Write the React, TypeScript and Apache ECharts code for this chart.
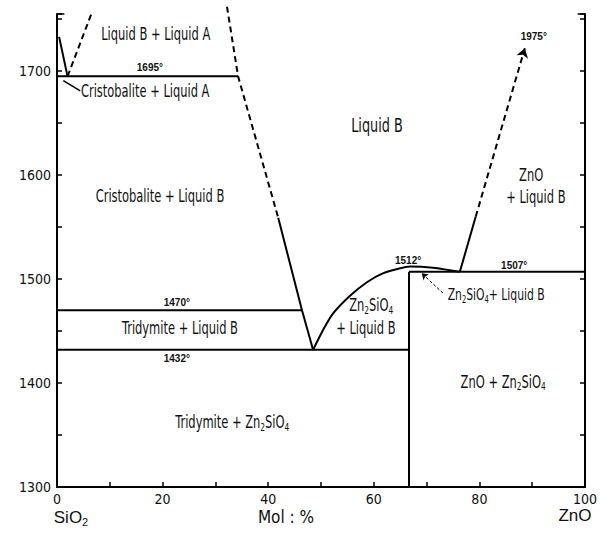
import React, { useEffect, useRef } from "react";
import * as echarts from "echarts";

const FONT = "'DejaVu Sans Condensed', 'DejaVu Sans', sans-serif";
const INK = "#111";

// Phase boundaries, [mol % ZnO, °C]
const iso1695: number[][] = [[0, 1695], [34.3, 1695]];
const iso1470: number[][] = [[0, 1470], [46.4, 1470]];
const iso1432: number[][] = [[0, 1432], [66.67, 1432]];
const iso1507: number[][] = [[66.67, 1507], [100, 1507]];
const zn2sio4Line: number[][] = [[66.67, 1300], [66.67, 1507]];
const cristobaliteA: number[][] = [[0.4, 1733], [2.0, 1695]];
const liquidADashed: number[][] = [[2.0, 1695], [6.5, 1755]];
const silicaLiquidusDashed: number[][] = [[32.2, 1762], [34.3, 1695], [41.9, 1559]];
const silicaLiquidus: number[][] = [[41.9, 1559], [46.4, 1470], [48.5, 1432]];
const willemiteLiquidus: number[][] = [
  [48.5, 1432], [50.5, 1452], [52.3, 1467], [55.5, 1484], [58.7, 1497],
  [61.7, 1505.5], [65.0, 1510.5], [66.9, 1512], [71.2, 1511], [74.4, 1508.5], [76.3, 1507],
];
const zincoxideLiquidus: number[][] = [[76.3, 1507], [79.3, 1560]];
const zincoxideDashed: number[][] = [[79.3, 1560], [88.6, 1722]];

// Short caps closing the frame at the top of both temperature axes
const frameCapLeft: number[][] = [[0, 1755], [1.4, 1755]];
const frameCapRight: number[][] = [[98.6, 1755], [100, 1755]];

// Leader lines from labels to small fields
const leaderCristobalite: number[][] = [[1.2, 1691], [4.4, 1681]];
const leaderWillemite: number[][] = [[73.1, 1486.5], [69.1, 1505.5]];

// Field and temperature labels
const labelText: string[] = [
  "Liquid B + Liquid A",
  "Cristobalite + Liquid A",
  "Liquid B",
  "Cristobalite + Liquid B",
  "ZnO",
  "+ Liquid B",
  "Tridymite + Liquid B",
  "{t|Zn}{s|2}{t|SiO}{s|4}",
  "+ Liquid B",
  "{t|Zn}{s|2}{t|SiO}{s|4}{t|+ Liquid B}",
  "{t|ZnO + Zn}{s|2}{t|SiO}{s|4}",
  "{t|Tridymite + Zn}{s|2}{t|SiO}{s|4}",
  "1695°",
  "1470°",
  "1432°",
  "1512°",
  "1507°",
  "1975°",
];
const labelX: number[] = [18.7, 16.7, 60.6, 19.5, 89.8, 90.7, 23.3, 59.5, 58.5, 74.0, 84.5, 33.2, 17.6, 22.7, 22.7, 66.5, 86.6, 90.3];
const labelY: number[] = [1735, 1681, 1648, 1580, 1600, 1579, 1453, 1475, 1453, 1485, 1401, 1362, 1704, 1477, 1424, 1518, 1513, 1733];
const labelSize: number[] = [17, 17, 19, 17, 17, 17, 17, 17, 17, 16, 17, 17, 10, 10, 10, 10, 10, 10];
const labelAlign: string[] = ["center", "center", "center", "center", "center", "center", "center", "center", "center", "left", "center", "center", "center", "center", "center", "center", "center", "center"];

const xTicks = { min: 0, max: 100, step: 10 };
const yTicks = { min: 1300, max: 1755, step: 50 };

function boundary(data: number[][], dashed = false, extra: any = {}) {
  return {
    type: "line",
    data,
    showSymbol: false,
    symbol: "none",
    clip: false,
    silent: true,
    lineStyle: { color: "#000", width: 2, type: dashed ? [6, 4] : "solid" },
    ...extra,
  };
}

export default function App() {
  const ref = useRef<HTMLDivElement>(null);

  useEffect(() => {
    if (!ref.current) return;
    const chart = echarts.init(ref.current, null, { renderer: "svg" });

    const axisCommon = {
      type: "value",
      splitLine: { show: false },
      axisLine: { show: true, lineStyle: { color: "#000", width: 2 } },
      axisTick: { show: true, inside: true, length: 5, lineStyle: { color: "#000", width: 1.5 } },
    };

    chart.setOption({
      animation: false,
      backgroundColor: "#fff",
      grid: { left: 57, right: 15, top: 14, bottom: 50 },
      xAxis: {
        ...axisCommon,
        min: xTicks.min,
        max: xTicks.max,
        interval: xTicks.step,
        axisLabel: {
          formatter: (v: number) => (v % 20 === 0 ? String(v) : ""),
          color: INK,
          fontFamily: FONT,
          fontSize: 14,
          margin: 5,
        },
      },
      yAxis: [
        {
          ...axisCommon,
          position: "left",
          min: yTicks.min,
          max: yTicks.max,
          interval: yTicks.step,
          axisLabel: {
            formatter: (v: number) => (v % 100 === 0 ? String(v) : ""),
            color: INK,
            fontFamily: FONT,
            fontSize: 14,
            margin: 6,
          },
        },
        {
          ...axisCommon,
          position: "right",
          min: yTicks.min,
          max: yTicks.max,
          interval: yTicks.step,
          axisLabel: { show: false },
        },
      ],
      graphic: [
        {
          type: "text",
          x: 71,
          y: 517,
          style: {
            text: "{t|SiO}{s|2}",
            align: "center",
            verticalAlign: "middle",
            fill: INK,
            rich: {
              t: { fontSize: 17, fontFamily: "'Liberation Sans', sans-serif", fill: INK },
              s: { fontSize: 11, fontFamily: "'Liberation Sans', sans-serif", fill: INK, padding: [9, 0, 0, 0] },
            },
          },
        },
        {
          type: "text",
          x: 286,
          y: 517,
          style: { text: "Mol : %", align: "center", verticalAlign: "middle", fill: INK, fontSize: 17, fontFamily: FONT },
        },
        {
          type: "text",
          x: 575,
          y: 515,
          style: { text: "ZnO", align: "center", verticalAlign: "middle", fill: INK, fontSize: 17, fontFamily: "'Liberation Sans', sans-serif" },
        },
      ],
      series: [
        boundary(iso1695),
        boundary(iso1470),
        boundary(iso1432),
        boundary(iso1507),
        boundary(zn2sio4Line),
        boundary(cristobaliteA),
        boundary(liquidADashed, true),
        boundary(silicaLiquidusDashed, true),
        boundary(silicaLiquidus),
        boundary(willemiteLiquidus, false, { smooth: 0.3 }),
        boundary(frameCapLeft, false, { lineStyle: { color: "#000", width: 1.5 } }),
        boundary(frameCapRight, false, { lineStyle: { color: "#000", width: 1.5 } }),
        boundary(zincoxideLiquidus, false, {
          markLine: {
            silent: true,
            symbol: ["none", "arrow"],
            symbolSize: 9,
            label: { show: false },
            lineStyle: { color: "#000", width: 2, type: [6, 4] },
            data: [[{ coord: zincoxideDashed[0] }, { coord: zincoxideDashed[1] }]],
          },
        }),
        {
          type: "line",
          data: [],
          silent: true,
          markLine: {
            silent: true,
            label: { show: false },
            data: [
              [
                { coord: leaderCristobalite[0], symbol: "none", lineStyle: { color: "#000", width: 1.5, type: "solid", curveness: -0.6 } },
                { coord: leaderCristobalite[1], symbol: "none" },
              ],
              [
                { coord: leaderWillemite[0], symbol: "none", lineStyle: { color: "#000", width: 1, type: [3, 2], curveness: 0.35 } },
                { coord: leaderWillemite[1], symbol: "arrow", symbolSize: 6 },
              ],
            ],
          },
        },
        {
          type: "custom",
          silent: true,
          clip: false,
          data: labelX.map((x, i) => [x, labelY[i], i]),
          encode: { x: 0, y: 1 },
          renderItem: (params: any, api: any) => {
            const i = api.value(2) as number;
            const pt = api.coord([api.value(0), api.value(1)]);
            const size = labelSize[i];
            const small = size < 12;
            return {
              type: "text",
              x: pt[0],
              y: pt[1],
              scaleX: small ? 1 : 0.75,
              style: {
                text: labelText[i],
                align: labelAlign[i],
                verticalAlign: "middle",
                fill: INK,
                fontSize: size,
                fontFamily: small ? "'Liberation Sans', sans-serif" : FONT,
                fontWeight: small ? "bold" : "normal",
                rich: {
                  t: { fontSize: size, fontFamily: FONT, fill: INK },
                  s: { fontSize: Math.round(size * 0.62), fontFamily: FONT, fill: INK, padding: [Math.round(size * 0.55), 0, 0, 0] },
                },
              },
            };
          },
        },
      ],
    });

    return () => chart.dispose();
  }, []);

  return <div ref={ref} style={{ position: "absolute", left: 0, top: 0, width: 600, height: 537 }} />;
}
